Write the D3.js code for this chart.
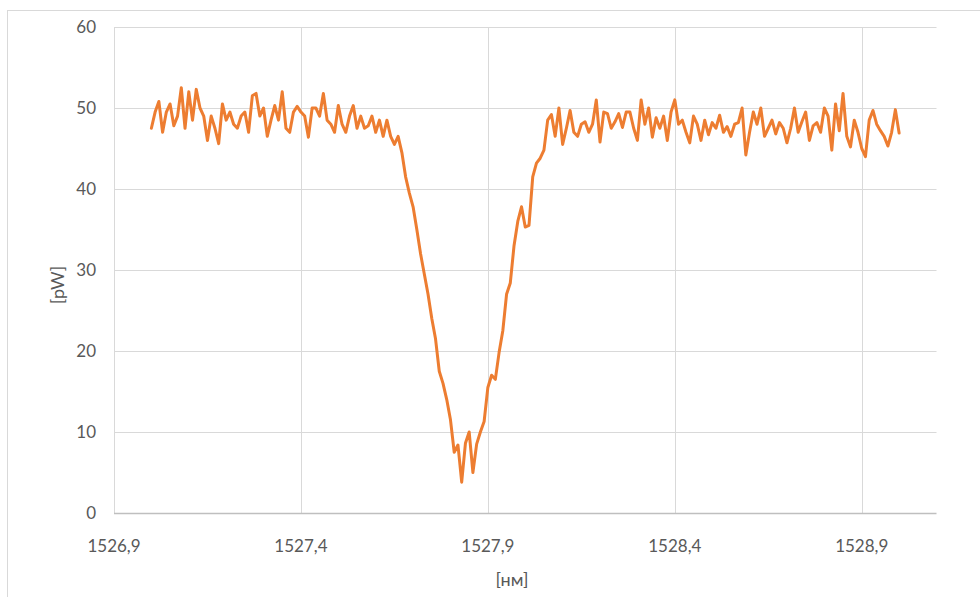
<!DOCTYPE html>
<html><head><meta charset="utf-8">
<script src="https://cdn.jsdelivr.net/npm/d3@7"></script>
<style>body{margin:0;background:#fff;}svg{display:block;font-family:Lato,"Open Sans",sans-serif;}</style>
</head><body>
<svg id="chart" width="980" height="597"></svg>
<script>
// Data
const wlStart = 1527.0;   // first sample [nm]
const wlStep = 0.01;      // sampling step [nm]
const power = [
47.5,49.5,50.8,47.0,49.5,50.5,47.8,49.0,52.5,47.5,
52.0,48.5,52.3,50.0,49.0,46.0,49.0,47.5,45.6,50.5,
48.5,49.5,48.0,47.5,49.0,49.5,47.0,51.5,51.8,49.0,
50.0,46.5,48.5,50.3,48.5,52.0,47.5,47.0,49.5,50.2,
49.5,49.0,46.4,50.0,50.0,49.0,51.8,48.5,48.0,47.0,
50.3,48.0,47.0,49.0,50.3,47.5,49.0,47.5,47.8,49.0,
47.0,48.5,46.5,48.5,46.5,45.5,46.5,44.5,41.5,39.5,
37.8,35.0,32.0,29.5,27.0,24.0,21.5,17.5,16.0,14.0,
11.5,7.5,8.4,3.8,8.6,10.0,5.0,8.5,10.0,11.3,
15.5,17.0,16.5,19.8,22.5,27.0,28.4,33.0,36.0,37.8,
35.3,35.5,41.5,43.2,43.8,44.8,48.5,49.2,46.5,50.0,
45.5,47.5,49.7,47.0,46.5,48.0,48.3,47.0,48.0,51.0,
45.8,49.5,49.3,47.5,48.3,49.3,47.6,49.5,49.5,47.5,
46.0,51.0,48.0,50.0,46.4,48.8,47.5,49.0,46.0,49.5,
51.0,48.0,48.5,47.0,45.7,49.0,48.0,46.0,48.5,46.7,
48.2,47.5,49.1,47.0,47.7,46.5,48.0,48.2,50.0,44.2,
47.0,49.5,48.0,50.0,46.5,47.5,48.5,46.8,48.2,47.5,
45.7,47.5,50.0,47.0,48.3,49.5,46.0,47.8,48.2,47.0,
50.0,49.0,44.8,50.5,47.2,51.8,46.5,45.2,48.5,47.0,
45.0,44.0,48.5,49.7,48.0,47.2,46.5,45.3,47.0,49.8,
46.9
];
const xTicks = [1526.9, 1527.4, 1527.9, 1528.4, 1528.9];
const yTicks = [0, 10, 20, 30, 40, 50, 60];
const xDomain = [1526.9, 1529.1];
const yDomain = [0, 60];
const xTitle = "[нм]";
const yTitle = "[pW]";

const data = power.map((v, i) => ({x: wlStart + i * wlStep, y: v}));

const svg = d3.select("#chart");
const L = 114, R = 936.5, T = 27, B = 513;
const x = d3.scaleLinear().domain(xDomain).range([L, R]);
const y = d3.scaleLinear().domain(yDomain).range([B, T]);

// outer frame
svg.append("rect").attr("x", 7.5).attr("y", 10.5).attr("width", 990).attr("height", 600)
  .attr("fill", "none").attr("stroke", "#d9d9d9").attr("stroke-width", 1);

// horizontal gridlines
svg.append("g").selectAll("line").data(yTicks.filter(d => d !== 0)).join("line")
  .attr("x1", L).attr("x2", R)
  .attr("y1", d => Math.round(y(d)) + 0.5).attr("y2", d => Math.round(y(d)) + 0.5)
  .attr("stroke", "#d9d9d9").attr("stroke-width", 1);
// vertical gridlines
svg.append("g").selectAll("line").data(xTicks).join("line")
  .attr("y1", T).attr("y2", B)
  .attr("x1", d => Math.round(x(d)) + 0.5).attr("x2", d => Math.round(x(d)) + 0.5)
  .attr("stroke", "#d9d9d9").attr("stroke-width", 1);
// bottom axis line
svg.append("line").attr("x1", L).attr("x2", R)
  .attr("y1", Math.round(y(0)) + 0.5).attr("y2", Math.round(y(0)) + 0.5)
  .attr("stroke", "#bfbfbf").attr("stroke-width", 1.3);

// tick labels
const fmt = d => d3.format(".1f")(d).replace(".", ",");
svg.append("g").selectAll("text").data(xTicks).join("text")
  .attr("x", d => x(d)).attr("y", 552)
  .attr("text-anchor", "middle").attr("fill", "#595959").attr("font-size", 17)
  .text(fmt);
svg.append("g").selectAll("text").data(yTicks).join("text")
  .attr("x", 96).attr("y", d => y(d) + 6)
  .attr("text-anchor", "end").attr("fill", "#595959").attr("font-size", 17)
  .text(d => d);

// axis titles
svg.append("text").attr("x", 512).attr("y", 586).attr("text-anchor", "middle")
  .attr("fill", "#595959").attr("font-size", 18).text(xTitle);
svg.append("text").attr("transform", "translate(64,285) rotate(-90)")
  .attr("text-anchor", "middle").attr("fill", "#595959").attr("font-size", 18).text(yTitle);

// series line
svg.append("path").datum(data)
  .attr("d", d3.line().x(d => x(d.x)).y(d => y(d.y)))
  .attr("fill", "none").attr("stroke", "#ED7D31").attr("stroke-width", 3)
  .attr("stroke-linejoin", "round").attr("stroke-linecap", "round");
</script>
</body></html>
